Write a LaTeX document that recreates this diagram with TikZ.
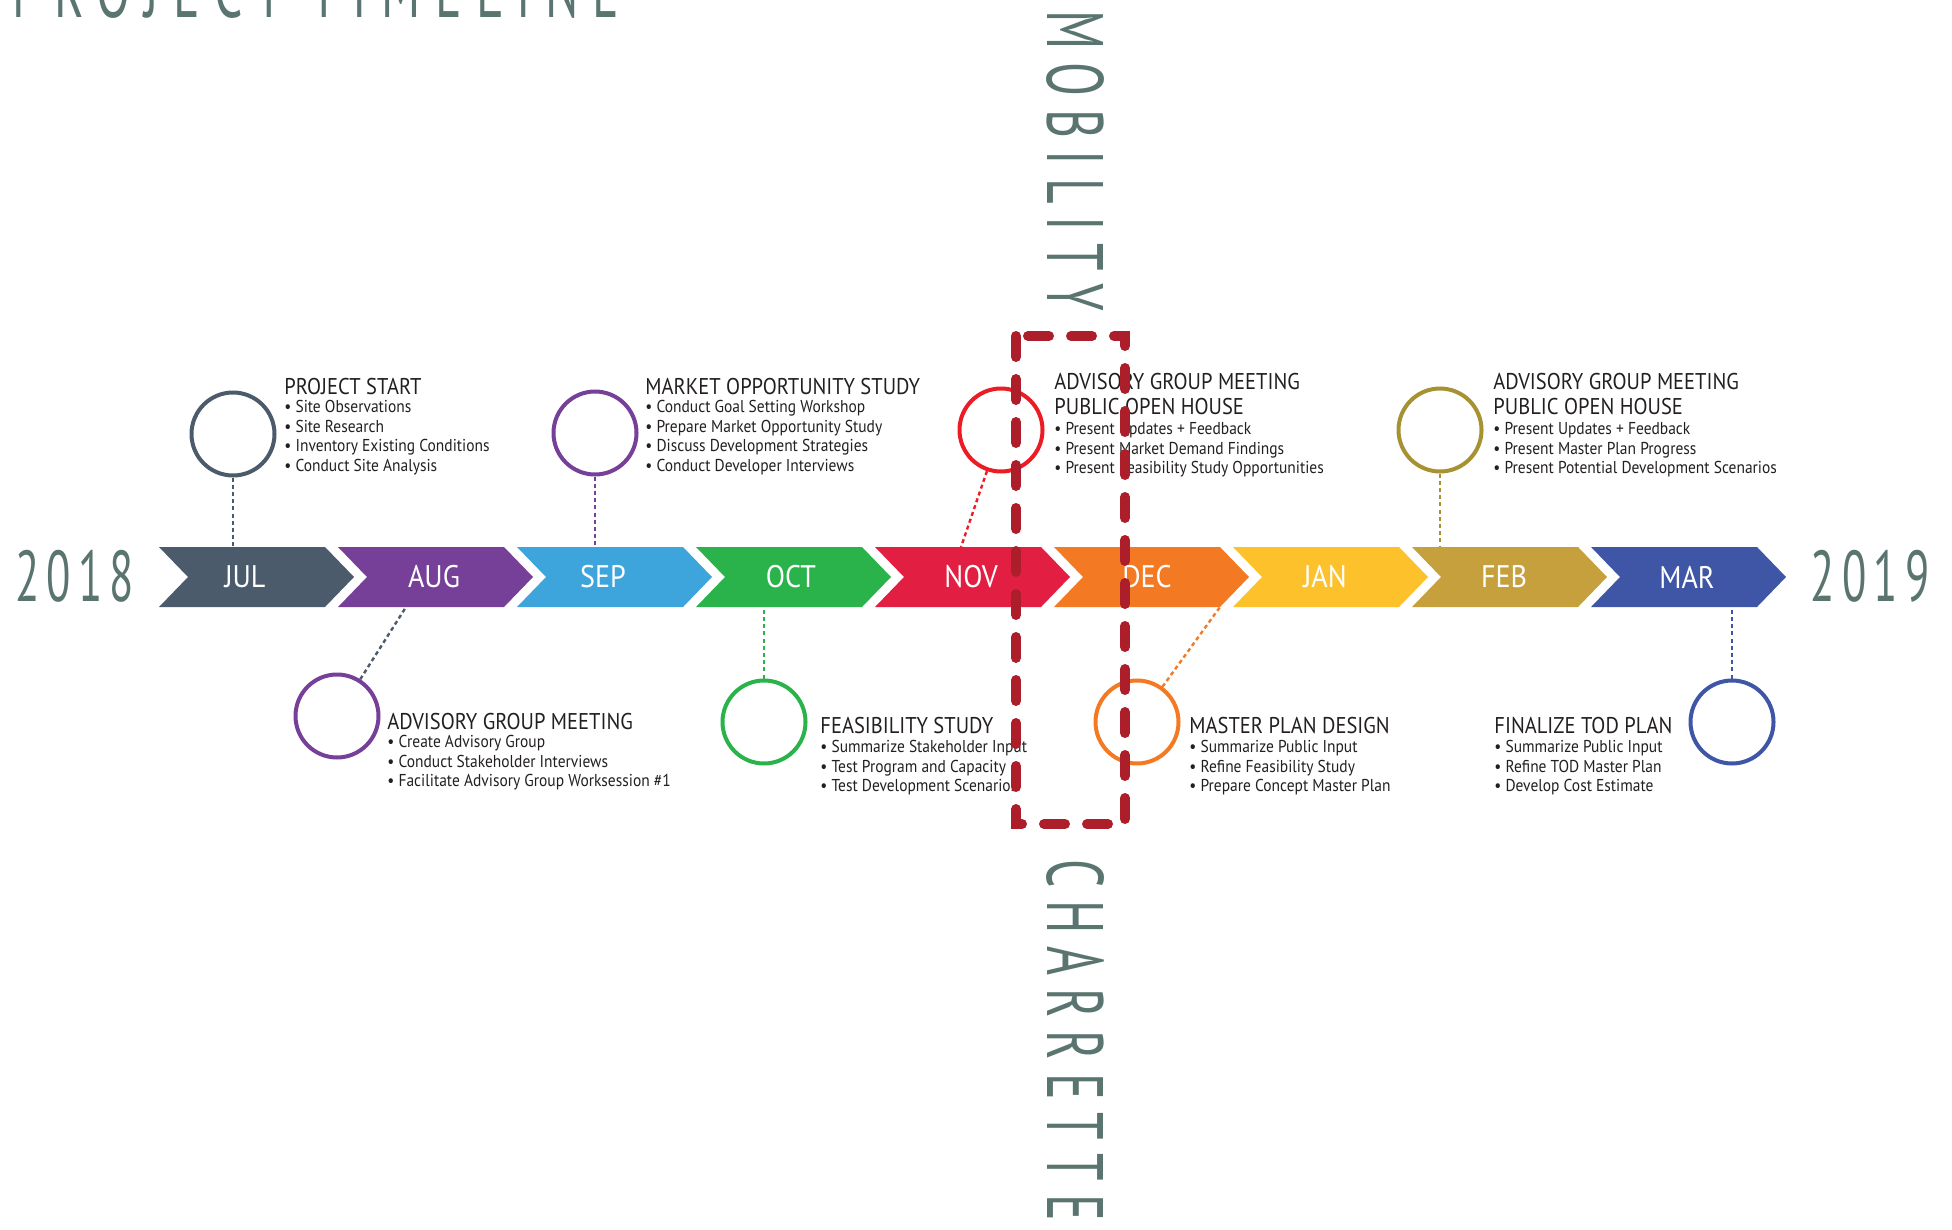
\documentclass[tikz,border=0pt]{standalone}
\usepackage{fontspec}
\setmainfont{PT Sans}[FakeStretch=0.9]
\newfontfamily\headfont{PT Sans}[FakeStretch=0.62,LetterSpace=16]
\newfontfamily\titlefont{PT Sans}[FakeStretch=0.62,LetterSpace=18]
\newfontfamily\yearfont{PT Sans}[FakeStretch=0.62,LetterSpace=10]
\usetikzlibrary{positioning}
\definecolor{HeadGreen}{RGB}{90,117,112}
\definecolor{TextGray}{RGB}{35,31,32}
\definecolor{JulSlate}{RGB}{75,91,108}
\definecolor{AugPurple}{RGB}{118,63,152}
\definecolor{SepBlue}{RGB}{61,165,220}
\definecolor{OctGreen}{RGB}{42,179,75}
\definecolor{NovRed}{RGB}{226,30,66}
\definecolor{NovCircle}{RGB}{237,28,36}
\definecolor{DecOrange}{RGB}{244,121,35}
\definecolor{JanYellow}{RGB}{253,193,43}
\definecolor{FebGold}{RGB}{198,160,60}
\definecolor{FebOlive}{RGB}{166,146,50}
\definecolor{MarBlue}{RGB}{63,85,165}
\definecolor{CharRed}{RGB}{172,30,42}
\newcommand{\blocktitle}[1]{{\fontsize{11.4}{14}\selectfont #1}}
\tikzset{
  bigword/.style={text=HeadGreen,inner sep=0pt,font=\headfont\fontsize{40}{40}\selectfont},
  yearword/.style={text=HeadGreen,inner sep=0pt,font=\yearfont\fontsize{36}{36}\selectfont},
  monthlabel/.style={text=white,inner sep=0pt,font=\fontsize{15.6}{18}\selectfont},
  stepcircle/.style={circle,draw,line width=2pt,fill=white,minimum size=41.5pt,inner sep=0pt},
  dotlink/.style={line width=1.2pt,dash pattern=on 2pt off 1.6pt},
  infoblock/.style={anchor=north west,align=left,inner sep=0pt,text=TextGray,
    font=\fontsize{8.6}{9.7}\selectfont},
  charrette/.style={draw=CharRed,line width=5pt,line cap=round,dash pattern=on 10.5pt off 11pt},
}

\begin{document}
\begin{tikzpicture}[x=0.5pt,y=-0.5pt]
  \useasboundingbox (0,0) rectangle (1952,1230);

  % headings
  \node[bigword,font=\titlefont\fontsize{40}{40}\selectfont,anchor=base west] (title) at (12,18) {PROJECT TIMELINE};
  \node[yearword,anchor=base west] (y2018) at (15,601) {2018};
  \node[yearword,anchor=base east] (y2019) at (1930,601) {2019};
  \node[bigword,rotate=-90,anchor=west] (mobility) at (1075,10) {MOBILITY};
  \node[bigword,rotate=-90,anchor=west] (charrette) at (1075,859) {CHARRETTE};

  % month band
  \foreach \m/\c/\dx [count=\i from 0] in {JUL/JulSlate/86,AUG/AugPurple/96,SEP/SepBlue/86,
      OCT/OctGreen/95,NOV/NovRed/96,DEC/DecOrange/93,JAN/JanYellow/92,FEB/FebGold/92,MAR/MarBlue/96} {
    \pgfmathsetmacro{\xa}{159+179*\i}
    \fill[\c] (\xa,547) -- ++(166,0) -- ++(29,30) -- ++(-29,30) -- ++(-166,0) -- ++(29,-30) -- cycle;
    \node[monthlabel] (\m) at (\xa+\dx,577) {\m};
  }

  % link ends on the band
  \coordinate (jul-top) at (233,547);
  \coordinate (sep-top) at (595,547);
  \coordinate (nov-top) at (961,547);
  \coordinate (feb-top) at (1440,547);
  \coordinate (aug-bot) at (406,607);
  \coordinate (oct-bot) at (764,607);
  \coordinate (dec-bot) at (1220,607);
  \coordinate (mar-bot) at (1732,607);

  % milestones
  \node[stepcircle,draw=JulSlate] (start) at (233,434) {};
  \node[stepcircle,draw=AugPurple] (market) at (595,433) {};
  \node[stepcircle,draw=NovCircle] (openhouse) at (1001,430) {};
  \node[stepcircle,draw=FebOlive] (openhouse2) at (1440,430) {};
  \node[stepcircle,draw=AugPurple] (advisory) at (337,716) {};
  \node[stepcircle,draw=OctGreen] (feasibility) at (764,722) {};
  \node[stepcircle,draw=DecOrange] (masterplan) at (1137,722) {};
  \node[stepcircle,draw=MarBlue] (finalize) at (1732,722) {};

  \draw[dotlink,JulSlate] (start) -- (jul-top);
  \draw[dotlink,AugPurple] (market) -- (sep-top);
  \draw[dotlink,NovCircle] (openhouse) -- (nov-top);
  \draw[dotlink,FebOlive] (openhouse2) -- (feb-top);
  \draw[dotlink,JulSlate] (advisory) -- (aug-bot);
  \draw[dotlink,OctGreen] (feasibility) -- (oct-bot);
  \draw[dotlink,DecOrange] (masterplan) -- (dec-bot);
  \draw[dotlink,MarBlue] (finalize) -- (mar-bot);

  % milestone texts
  \node[infoblock] (start-text) at (284,378) {\blocktitle{PROJECT START}\\[-0.6pt]
    • Site Observations\\ • Site Research\\ • Inventory Existing Conditions\\ • Conduct Site Analysis};
  \node[infoblock] (market-text) at (645,378) {\blocktitle{MARKET OPPORTUNITY STUDY}\\[-0.6pt]
    • Conduct Goal Setting Workshop\\ • Prepare Market Opportunity Study\\
    • Discuss Development Strategies\\ • Conduct Developer Interviews};
  \node[infoblock] (openhouse-text) at (1054,373) {\blocktitle{ADVISORY GROUP MEETING}\\[2.8pt]
    \blocktitle{PUBLIC OPEN HOUSE}\\[0.4pt] • Present Updates + Feedback\\
    • Present Market Demand Findings\\ • Present Feasibility Study Opportunities};
  \node[infoblock] (openhouse2-text) at (1493,373) {\blocktitle{ADVISORY GROUP MEETING}\\[2.8pt]
    \blocktitle{PUBLIC OPEN HOUSE}\\[0.4pt] • Present Updates + Feedback\\
    • Present Master Plan Progress\\ • Present Potential Development Scenarios};
  \node[infoblock] (advisory-text) at (387,713) {\blocktitle{ADVISORY GROUP MEETING}\\[-0.6pt]
    • Create Advisory Group\\ • Conduct Stakeholder Interviews\\
    • Facilitate Advisory Group Worksession \#1};
  \node[infoblock] (feasibility-text) at (820,717) {\blocktitle{FEASIBILITY STUDY}\\[-0.2pt]
    • Summarize Stakeholder Input\\ • Test Program and Capacity\\ • Test Development Scenarios};
  \node[infoblock] (masterplan-text) at (1189,717) {\blocktitle{MASTER PLAN DESIGN}\\[-0.2pt]
    • Summarize Public Input\\ • Refine Feasibility Study\\ • Prepare Concept Master Plan};
  \node[infoblock] (finalize-text) at (1494,717) {\blocktitle{FINALIZE TOD PLAN}\\[-0.2pt]
    • Summarize Public Input\\ • Refine TOD Master Plan\\ • Develop Cost Estimate};

  % charrette window
  \draw[charrette] (1016,336) rectangle (1125,824);
\end{tikzpicture}
\end{document}
